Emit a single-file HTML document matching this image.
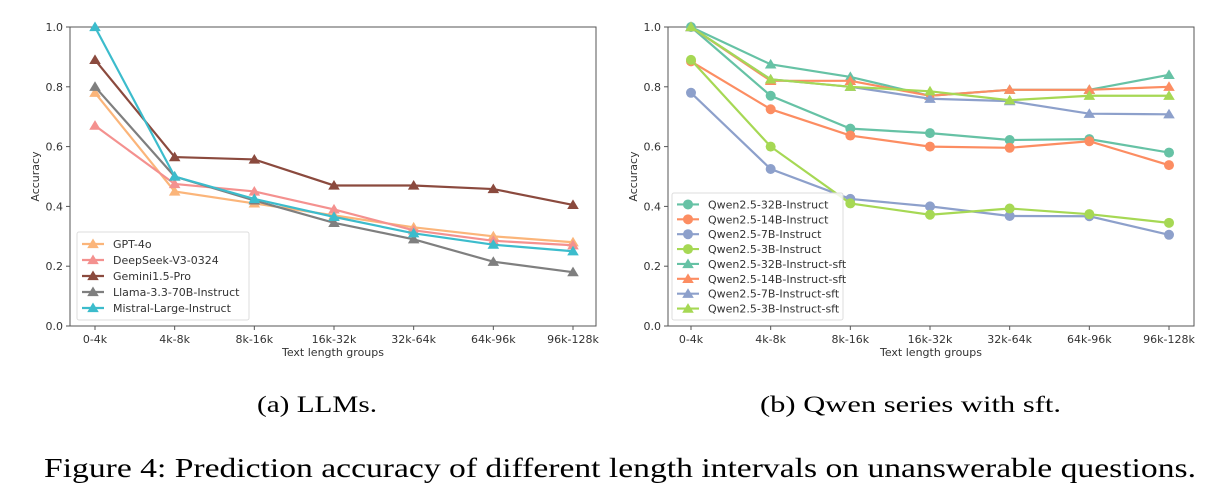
<!DOCTYPE html>
<html><head><meta charset="utf-8"><style>
html,body{margin:0;padding:0;background:#fff;}
svg{display:block;font-family:"DejaVu Sans","Liberation Sans",sans-serif;}
</style></head><body>
<svg id="fig" width="1222" height="496" viewBox="0 0 1222 496" xmlns="http://www.w3.org/2000/svg">
<text x="257" y="412" font-family="Liberation Serif, serif" font-size="23" textLength="120" lengthAdjust="spacingAndGlyphs">(a) LLMs.</text>
<text x="760" y="412" font-family="Liberation Serif, serif" font-size="23" textLength="301" lengthAdjust="spacingAndGlyphs">(b) Qwen series with sft.</text>
<text x="44" y="477" font-family="Liberation Serif, serif" font-size="27" textLength="1152" lengthAdjust="spacingAndGlyphs">Figure 4: Prediction accuracy of different length intervals on unanswerable questions.</text>
</svg>
<script>
const categories=["0-4k","4k-8k","8k-16k","16k-32k","32k-64k","64k-96k","96k-128k"];
const yTicks=[0.0,0.2,0.4,0.6,0.8,1.0];
const leftNames=["GPT-4o","DeepSeek-V3-0324","Gemini1.5-Pro","Llama-3.3-70B-Instruct","Mistral-Large-Instruct"];
const gpt4o=[0.78,0.45,0.41,0.37,0.33,0.30,0.28];
const deepseek=[0.67,0.475,0.45,0.39,0.32,0.285,0.27];
const gemini=[0.89,0.565,0.557,0.47,0.47,0.458,0.405];
const llama=[0.80,0.50,0.42,0.345,0.29,0.215,0.18];
const mistral=[1.0,0.50,0.425,0.365,0.31,0.272,0.25];
const rightNames=["Qwen2.5-32B-Instruct","Qwen2.5-14B-Instruct","Qwen2.5-7B-Instruct","Qwen2.5-3B-Instruct","Qwen2.5-32B-Instruct-sft","Qwen2.5-14B-Instruct-sft","Qwen2.5-7B-Instruct-sft","Qwen2.5-3B-Instruct-sft"];
const q32=[1.0,0.77,0.66,0.645,0.622,0.625,0.58];
const q14=[0.885,0.725,0.637,0.60,0.596,0.618,0.538];
const q7=[0.78,0.525,0.425,0.40,0.368,0.367,0.305];
const q3=[0.89,0.60,0.41,0.372,0.393,0.374,0.345];
const q32s=[1.0,0.875,0.833,0.77,0.79,0.79,0.84];
const q14s=[1.0,0.82,0.82,0.77,0.79,0.79,0.80];
const q7s=[1.0,0.825,0.80,0.76,0.752,0.71,0.708];
const q3s=[1.0,0.825,0.80,0.785,0.755,0.77,0.77];

const NS="http://www.w3.org/2000/svg";
const svg=document.getElementById('fig');
function mk(tag,attrs,parent,txt){const e=document.createElementNS(NS,tag);for(const k in attrs)e.setAttribute(k,attrs[k]);if(txt!==undefined)e.textContent=txt;(parent||svg).appendChild(e);return e;}
function marker(g,kind,x,y,color,r){
  if(kind==='tri'){return mk('polygon',{points:`${x},${y-r} ${x-r*1.05},${y+r*0.75} ${x+r*1.05},${y+r*0.75}`,fill:color},g);}
  return mk('circle',{cx:x,cy:y,r:r,fill:color},g);
}
function chart(name,box,xFirst,xLast,series,legendBox){
  const g=mk('g',{});
  
  
  const xs=i=>xFirst+(xLast-xFirst)*i/(categories.length-1);
  const ys=v=>box.b-(box.b-box.t)*v;
  mk('rect',{x:box.l,y:box.t,width:box.r-box.l,height:box.b-box.t,fill:'none',stroke:'#555','stroke-width':1},g);
  yTicks.forEach(t=>{
    mk('line',{x1:box.l-4,x2:box.l,y1:ys(t),y2:ys(t),stroke:'#555'},g);
    const tl=mk('text',{x:box.l-7,y:ys(t)+4,'font-size':11,'text-anchor':'end',fill:'#333'},g,t.toFixed(1));
    
    
  });
  categories.forEach((c,i)=>{
    mk('line',{x1:xs(i),x2:xs(i),y1:box.b,y2:box.b+4,stroke:'#555'},g);
    const tl=mk('text',{x:xs(i),y:box.b+17,'font-size':11,'text-anchor':'middle',fill:'#333'},g,c);
    
    
  });
  const xt=mk('text',{x:(box.l+box.r)/2,y:box.b+30,'font-size':11,'text-anchor':'middle',fill:'#333'},g,'Text length groups');
  
  
  const cy=(box.t+box.b)/2, cx=box.l-31;
  const yt=mk('text',{x:cx,y:cy,'font-size':11,'text-anchor':'middle',fill:'#333',transform:`rotate(-90 ${cx} ${cy})`},g,'Accuracy');
  
  
  series.forEach(s=>{
    const sg=mk('g',{},g);
    
    
    mk('polyline',{points:s.data.map((v,i)=>xs(i)+','+ys(v)).join(' '),fill:'none',stroke:s.color,'stroke-width':2.2},sg);
    s.data.forEach((v,i)=>{
      const m=marker(sg,s.kind,xs(i),ys(v),s.color,s.kind==='tri'?5.5:5);
      
      
    });
  });
  const lg=mk('g',{},g);
  
  
  mk('rect',{x:legendBox.x,y:legendBox.y,width:legendBox.w,height:legendBox.h,rx:2,fill:'#fff','fill-opacity':0.85,stroke:'#ddd'},lg);
  const step=(legendBox.h-8)/series.length;
  series.forEach((s,i)=>{
    const yy=legendBox.y+4+step*(i+0.5);
    const eg=mk('g',{},lg);
    
    
    mk('line',{x1:legendBox.x+5,x2:legendBox.x+27,y1:yy,y2:yy,stroke:s.color,'stroke-width':2.2},eg);
    marker(eg,s.kind,legendBox.x+16,yy,s.color,s.kind==='tri'?5.5:5);
    mk('text',{x:legendBox.x+36,y:yy+4,'font-size':11,fill:'#333'},eg,s.name);
  });
}
const lc=['#fbb57a','#f4918f','#8b4a3e','#7f7f7f','#3cbccc'];
const leftData=[gpt4o,deepseek,gemini,llama,mistral];
chart('left-chart',{l:70,r:596,t:27,b:326},95,573,
  leftData.map((d,i)=>({name:leftNames[i],data:d,color:lc[i],kind:'tri'})),
  {x:77,y:232,w:172,h:88});
const rc=['#66c2a5','#fc8d62','#8da0cb','#a6d854'];
const rightData=[q32,q14,q7,q3,q32s,q14s,q7s,q3s];
chart('right-chart',{l:668,r:1194,t:27,b:326},691,1169,
  rightData.map((d,i)=>({name:rightNames[i],data:d,color:rc[i%4],kind:i<4?'circ':'tri'})),
  {x:672,y:193,w:171,h:127});
</script>
</body></html>
